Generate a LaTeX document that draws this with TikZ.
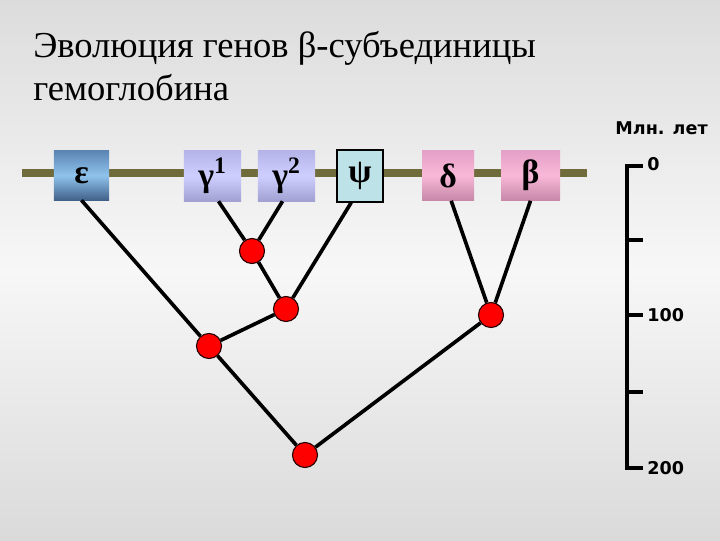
\documentclass[tikz,border=0pt]{standalone}
\usepackage{fontspec}
\setmainfont{Liberation Serif}
\newfontfamily\scalefnt{DejaVu Sans}
\definecolor{bgtop}{HTML}{DCDCDC}
\definecolor{bgmid}{HTML}{F7F7F7}
\definecolor{bgbot}{HTML}{DADADA}
\definecolor{olivebar}{HTML}{6F6B3B}
\definecolor{epstop}{HTML}{5C86B5}
\definecolor{epsmid}{HTML}{8FC3EC}
\definecolor{epsbot}{HTML}{41618A}
\definecolor{gamtop}{HTML}{B4B4E8}
\definecolor{gammid}{HTML}{CFCFFF}
\definecolor{gambot}{HTML}{A0A0D2}
\definecolor{psifill}{HTML}{BDE3E8}
\definecolor{pinktop}{HTML}{E4A0C6}
\definecolor{pinkmid}{HTML}{F9B8D8}
\definecolor{pinkbot}{HTML}{C588A8}
\begin{document}
\begin{tikzpicture}[x=0.025cm,y=-0.025cm,
    gene/.style={inner sep=0pt,minimum height=1.25cm,font=\bfseries\fontsize{24}{24}\selectfont},
    junction/.style={circle,draw=black!85!red,fill=red,line width=0.8pt,minimum size=0.625cm,inner sep=0pt},
    branch/.style={line width=2.6pt,black},
    ruler/.style={line width=2.6pt,black},
    ticklabel/.style={font=\scalefnt\bfseries\fontsize{12.5}{12.5}\selectfont,inner sep=0pt}]
    \fill[top color=bgtop,bottom color=bgbot,middle color=bgmid] (0,0) rectangle (720,540);
    \useasboundingbox (0,0) rectangle (720,540);

    \node[anchor=base west,inner sep=0pt,font=\fontsize{26}{26}\selectfont] (title1) at (33,57) {Эволюция генов β-субъединицы};
    \node[anchor=base west,inner sep=0pt,font=\fontsize{26}{26}\selectfont] (title2) at (33,100) {гемоглобина};

    \coordinate (barL) at (22,173);
    \coordinate (barR) at (587,173);
    \draw[olivebar,line width=5pt] (barL)--(barR);

    \node[gene,minimum width=1.375cm,minimum height=1.225cm,top color=epstop,bottom color=epsbot,middle color=epsmid] (eps) at (81.5,175.5) {ε};
    \node[gene,minimum width=1.425cm,top color=gamtop,bottom color=gambot,middle color=gammid] (g1) at (212.5,176) {γ\textsuperscript{1}};
    \node[gene,minimum width=1.425cm,top color=gamtop,bottom color=gambot,middle color=gammid] (g2) at (286.5,176) {γ\textsuperscript{2}};
    \node[gene,minimum width=1.15cm,minimum height=1.3cm,draw=black,line width=0.8pt,fill=psifill] (psi) at (360,176) {ψ};
    \node[gene,minimum width=1.3cm,top color=pinktop,bottom color=pinkbot,middle color=pinkmid] (del) at (448,175.5) {δ};
    \node[gene,minimum width=1.475cm,top color=pinktop,bottom color=pinkbot,middle color=pinkmid] (bet) at (530.5,175.5) {β};

    \node[junction] (ng) at (252,251) {};
    \node[junction] (ngp) at (286,309) {};
    \node[junction] (neg) at (209,346) {};
    \node[junction] (ndb) at (491,315) {};
    \node[junction] (root) at (305,455) {};

    \draw[branch] (eps.south)--(neg);
    \draw[branch] ([xshift=0.15cm]g1.south)--(ng);
    \draw[branch] ([xshift=-0.1cm]g2.south)--(ng);
    \draw[branch] (ng)--(ngp);
    \draw[branch] ([xshift=-0.22cm]psi.south)--(ngp);
    \draw[branch] (ngp)--(neg);
    \draw[branch] ([xshift=0.08cm]del.south)--(ndb);
    \draw[branch] (bet.south)--(ndb);
    \draw[branch] (neg)--(root);
    \draw[branch] (ndb)--(root);

    \draw[ruler] (643,166)-|(627,468)--(643,468);
    \foreach \y in {240,315,392}
        \draw[ruler] (627,\y)--(643,\y);
    \node[ticklabel,anchor=west] (t0) at (647,164) {0};
    \node[ticklabel,anchor=west] (t100) at (647,315) {100};
    \node[ticklabel,anchor=west] (t200) at (647,468) {200};
    \node[ticklabel,anchor=east] (unit) at (708,128) {Млн. лет};
\end{tikzpicture}
\end{document}
